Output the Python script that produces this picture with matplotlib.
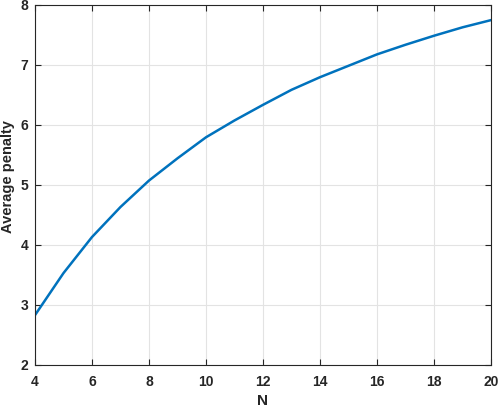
import matplotlib
matplotlib.use("Agg")
import matplotlib.pyplot as plt

N = [4, 5, 6, 7, 8, 9, 10, 11, 12, 13, 14, 15, 16, 17, 18, 19, 20]
penalty = [2.83, 3.53, 4.13, 4.63, 5.07, 5.44, 5.79, 6.07, 6.33, 6.58, 6.79,
           6.98, 7.17, 7.33, 7.48, 7.62, 7.74]
xticks = [4, 6, 8, 10, 12, 14, 16, 18, 20]
yticks = [2, 3, 4, 5, 6, 7, 8]

plt.rcParams['font.family'] = ['Liberation Sans', 'DejaVu Sans']
plt.rcParams['font.weight'] = 'bold'

fig = plt.figure(figsize=(4.98, 4.07), dpi=100)
ax = fig.add_axes([35/498, 42/407, 456/498, 360.5/407])
ax.plot(N, penalty, color=(0, 0.447, 0.741), linewidth=1.8)
ax.set_xlim(4, 20)
ax.set_ylim(2, 8)
ax.set_xticks(xticks)
ax.set_yticks(yticks)
ax.grid(True, color=(0.89, 0.89, 0.89), linewidth=0.8)
ax.set_axisbelow(True)
edge = (0.15, 0.15, 0.15)
for s in ax.spines.values():
    s.set_color(edge)
    s.set_linewidth(0.8)
ax.tick_params(direction='in', length=4, width=0.8, colors=edge,
               labelsize=10, top=True, right=True)
ax.tick_params(axis='x', pad=7.5)
ax.tick_params(axis='y', pad=5)
for lab in ax.get_xticklabels() + ax.get_yticklabels():
    lab.set_fontweight('bold')
ax.set_xlabel('N', fontsize=11, fontweight='bold', color=edge, labelpad=3.5)
ax.set_ylabel('Average penalty', fontsize=10.5, fontweight='bold', color=edge, labelpad=4)
ax.yaxis.label.set_y(0.523)
fig.savefig('out.png', dpi=100)
